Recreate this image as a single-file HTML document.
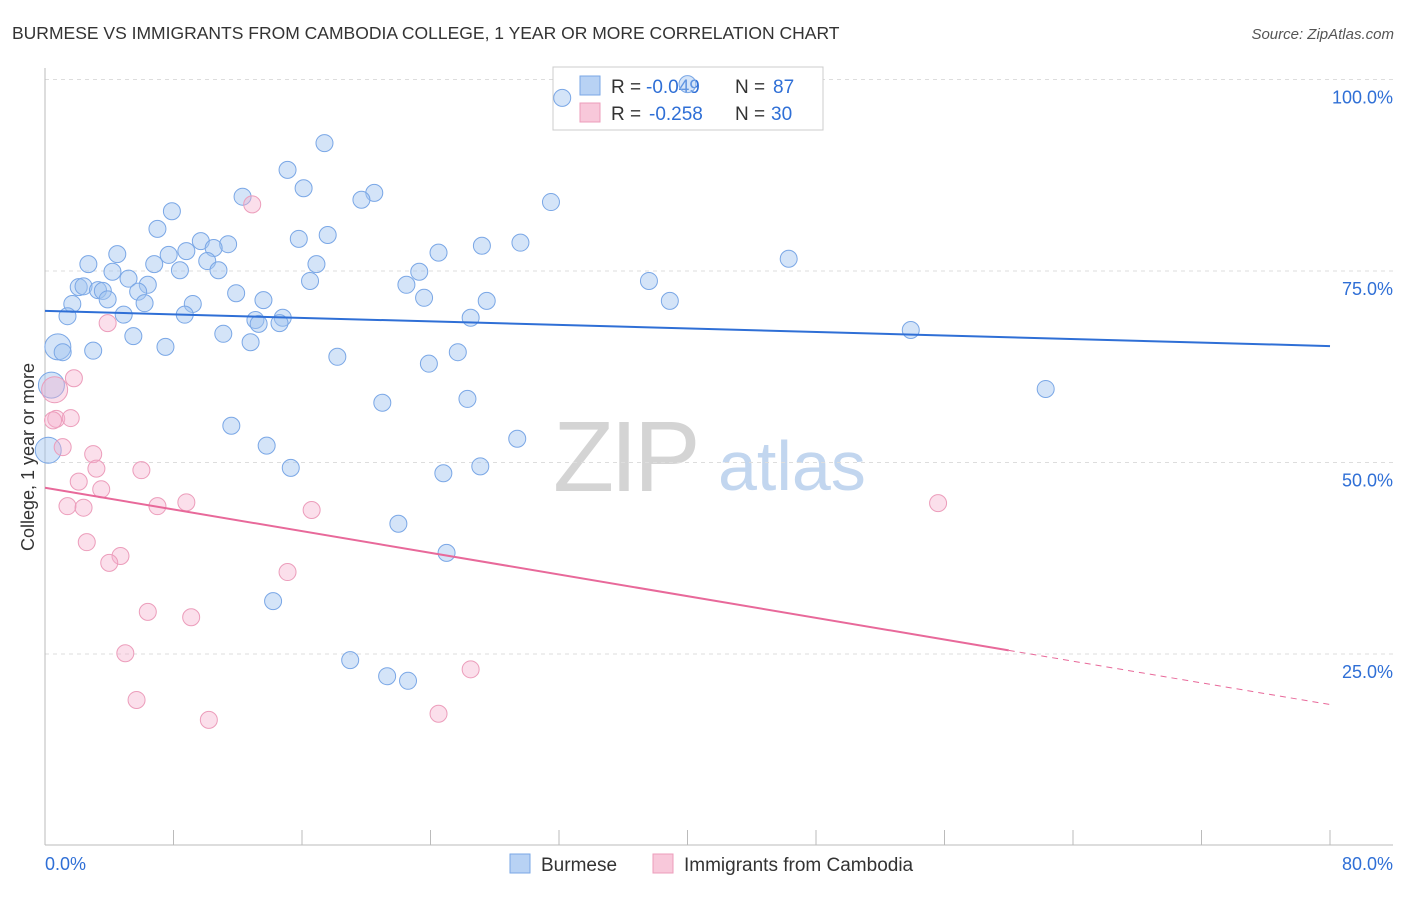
<!DOCTYPE html>
<html><head><meta charset="utf-8"><style>
body{margin:0;background:#fff;font-family:"Liberation Sans",sans-serif;}
svg text{font-family:"Liberation Sans",sans-serif;}
</style></head><body>
<svg id="chart" width="1406" height="892" xmlns="http://www.w3.org/2000/svg">
<text x="12" y="39" font-size="17.5" fill="#333">BURMESE VS IMMIGRANTS FROM CAMBODIA COLLEGE, 1 YEAR OR MORE CORRELATION CHART</text>
<text x="1394" y="39" font-size="15" fill="#555" text-anchor="end" font-style="italic">Source: ZipAtlas.com</text>
<text transform="translate(34,457) rotate(-90)" font-size="18" fill="#333" text-anchor="middle">College, 1 year or more</text>
<g>
<text x="553" y="491" font-size="100" fill="#d4d4d4" font-family="Liberation Serif" letter-spacing="-4">ZIP</text>
<text x="718" y="490" font-size="70" fill="#c2d6ef">atlas</text>
</g>
<g id="grid"></g><g id="axes"></g>
<g>
<rect x="553" y="67" width="270" height="63" fill="#fff" stroke="#ccc"/>
<rect x="580" y="76" width="20" height="19" fill="#b8d2f4" stroke="#7aa7e6"/>
<text x="611" y="93" font-size="19" fill="#333">R =</text>
<text x="646" y="93" font-size="19" fill="#2f6fd6">-0.049</text>
<text x="735" y="93" font-size="19" fill="#333">N =</text>
<text x="773" y="93" font-size="19" fill="#2f6fd6">87</text>
<rect x="580" y="103" width="20" height="19" fill="#f8c8da" stroke="#ec9dbb"/>
<text x="611" y="120" font-size="19" fill="#333">R =</text>
<text x="649" y="120" font-size="19" fill="#2f6fd6">-0.258</text>
<text x="735" y="120" font-size="19" fill="#333">N =</text>
<text x="771" y="120" font-size="19" fill="#2f6fd6">30</text>
</g>
<g id="pts"></g><g id="lines"></g>
<g>
<rect x="510" y="854" width="20" height="19" fill="#b8d2f4" stroke="#7aa7e6"/>
<text x="541" y="871" font-size="19" fill="#333">Burmese</text>
<rect x="653" y="854" width="20" height="19" fill="#f8c8da" stroke="#ec9dbb"/>
<text x="684" y="871" font-size="19" fill="#333">Immigrants from Cambodia</text>
</g>
</svg>
<script>
const blueX=[40.0,32.2,17.4,15.1,16.1,20.5,19.7,31.5,12.3,7.9,7.0,9.7,11.4,10.5,15.8,17.6,24.5,27.2,29.6,4.5,2.7,7.7,8.8,10.1,6.8,8.4,10.8,16.9,4.2,46.3,37.6,16.5,23.3,22.5,2.1,2.4,3.3,3.6,5.2,6.4,5.8,3.9,11.9,13.6,6.2,9.2,23.6,27.5,38.9,1.7,1.4,4.9,8.7,13.1,14.8,13.3,14.6,26.5,5.5,11.1,12.8,53.9,7.5,3.0,0.8,1.1,25.7,18.2,23.9,62.3,21.0,26.3,11.6,29.4,13.8,15.3,24.8,27.1,0.2,22.0,25.0,14.2,19.0,21.3,22.6,0.4];
const blueY=[99.4,97.6,91.7,88.2,85.8,85.2,84.3,84.0,84.7,82.8,80.5,78.9,78.5,78.0,79.2,79.7,77.4,78.3,78.7,77.2,75.9,77.1,77.6,76.3,75.9,75.1,75.1,75.9,74.9,76.6,73.7,73.7,74.9,73.2,72.9,73.0,72.5,72.4,74.0,73.2,72.3,71.3,72.1,71.2,70.8,70.7,71.5,71.1,71.1,70.7,69.1,69.3,69.3,68.6,68.9,68.1,68.2,68.9,66.5,66.8,65.7,67.3,65.1,64.6,65.1,64.4,64.4,63.8,62.9,59.6,57.8,58.3,54.8,53.1,52.2,49.3,48.6,49.5,51.6,42.0,38.2,31.9,24.2,22.1,21.5,60.1];
const blueBig=[64,78,85];
const pinkX=[12.9,3.9,1.8,0.6,0.7,1.6,1.1,3.0,3.2,6.0,2.1,3.5,1.4,2.4,7.0,8.8,16.6,55.6,2.6,4.7,4.0,15.1,6.4,9.1,5.0,26.5,5.7,10.2,24.5,0.5];
const pinkY=[83.7,68.2,61.0,59.5,55.7,55.8,52.0,51.1,49.2,49.0,47.5,46.5,44.3,44.1,44.3,44.8,43.8,44.7,39.6,37.8,36.9,35.7,30.5,29.8,25.1,23.0,19.0,16.4,17.2,55.5];
const pinkBig=[3];
const blueTrend=[69.8,65.2];
const pinkTrend=[46.7,18.4];
const pinkSolidEnd=60;
const yTicks=[25,50,75,100];
const yTickLabels=["25.0%","50.0%","75.0%","100.0%"];
const xTicks=[0,8,16,24,32,40,48,56,64,72,80];
const NS="http://www.w3.org/2000/svg";
const X=v=>45+v/80*1285, Y=v=>845.5-v*7.66;
function mk(tag,attrs,parent){const e=document.createElementNS(NS,tag);for(const k in attrs)e.setAttribute(k,attrs[k]);parent.appendChild(e);return e;}
const grid=document.getElementById('grid'),axes=document.getElementById('axes'),pts=document.getElementById('pts'),lines=document.getElementById('lines');
yTicks.forEach((t,i)=>{
 const l=mk('line',{x1:45,x2:1393,y1:Y(t),y2:Y(t),stroke:'#ddd','stroke-dasharray':'4,4'},grid);
 
 
 const tx=mk('text',{x:1393,y:Y(t)+24,'font-size':18,fill:'#2f6fd6','text-anchor':'end'},axes);
 tx.textContent=yTickLabels[i];
 
 
});
const ya=mk('line',{x1:45,x2:45,y1:68,y2:845,stroke:'#bbb'},axes);


const xa=mk('line',{x1:45,x2:1393,y1:845,y2:845,stroke:'#bbb'},axes);


xTicks.forEach(t=>{
 const l=mk('line',{x1:X(t),x2:X(t),y1:830,y2:845,stroke:'#bbb'},axes);
 
 
});
const xl0=mk('text',{x:45,y:870,'font-size':18,fill:'#2f6fd6'},axes);xl0.textContent='0.0%';


const xl1=mk('text',{x:1393,y:870,'font-size':18,fill:'#2f6fd6','text-anchor':'end'},axes);xl1.textContent='80.0%';


blueX.forEach((v,i)=>{
 const c=mk('circle',{cx:X(v),cy:Y(blueY[i]),r:blueBig.includes(i)?13:8.5,fill:'rgba(160,196,240,0.45)',stroke:'#7aa7e6','stroke-width':1},pts);
 
 
});
pinkX.forEach((v,i)=>{
 const c=mk('circle',{cx:X(v),cy:Y(pinkY[i]),r:pinkBig.includes(i)?13:8.5,fill:'rgba(246,176,204,0.4)',stroke:'#ec9dbb','stroke-width':1},pts);
 
 
});
const bl=mk('line',{x1:X(0),y1:Y(blueTrend[0]),x2:X(80),y2:Y(blueTrend[1]),stroke:'#2f6fd6','stroke-width':2},lines);


const pAt=x=>pinkTrend[0]+(pinkTrend[1]-pinkTrend[0])*x/80;
const pl=mk('line',{x1:X(0),y1:Y(pinkTrend[0]),x2:X(pinkSolidEnd),y2:Y(pAt(pinkSolidEnd)),stroke:'#e8699a','stroke-width':2},lines);


const pd=mk('line',{x1:X(pinkSolidEnd),y1:Y(pAt(pinkSolidEnd)),x2:X(80),y2:Y(pinkTrend[1]),stroke:'#e8699a','stroke-width':1,'stroke-dasharray':'6,5'},lines);


</script>
</body></html>
